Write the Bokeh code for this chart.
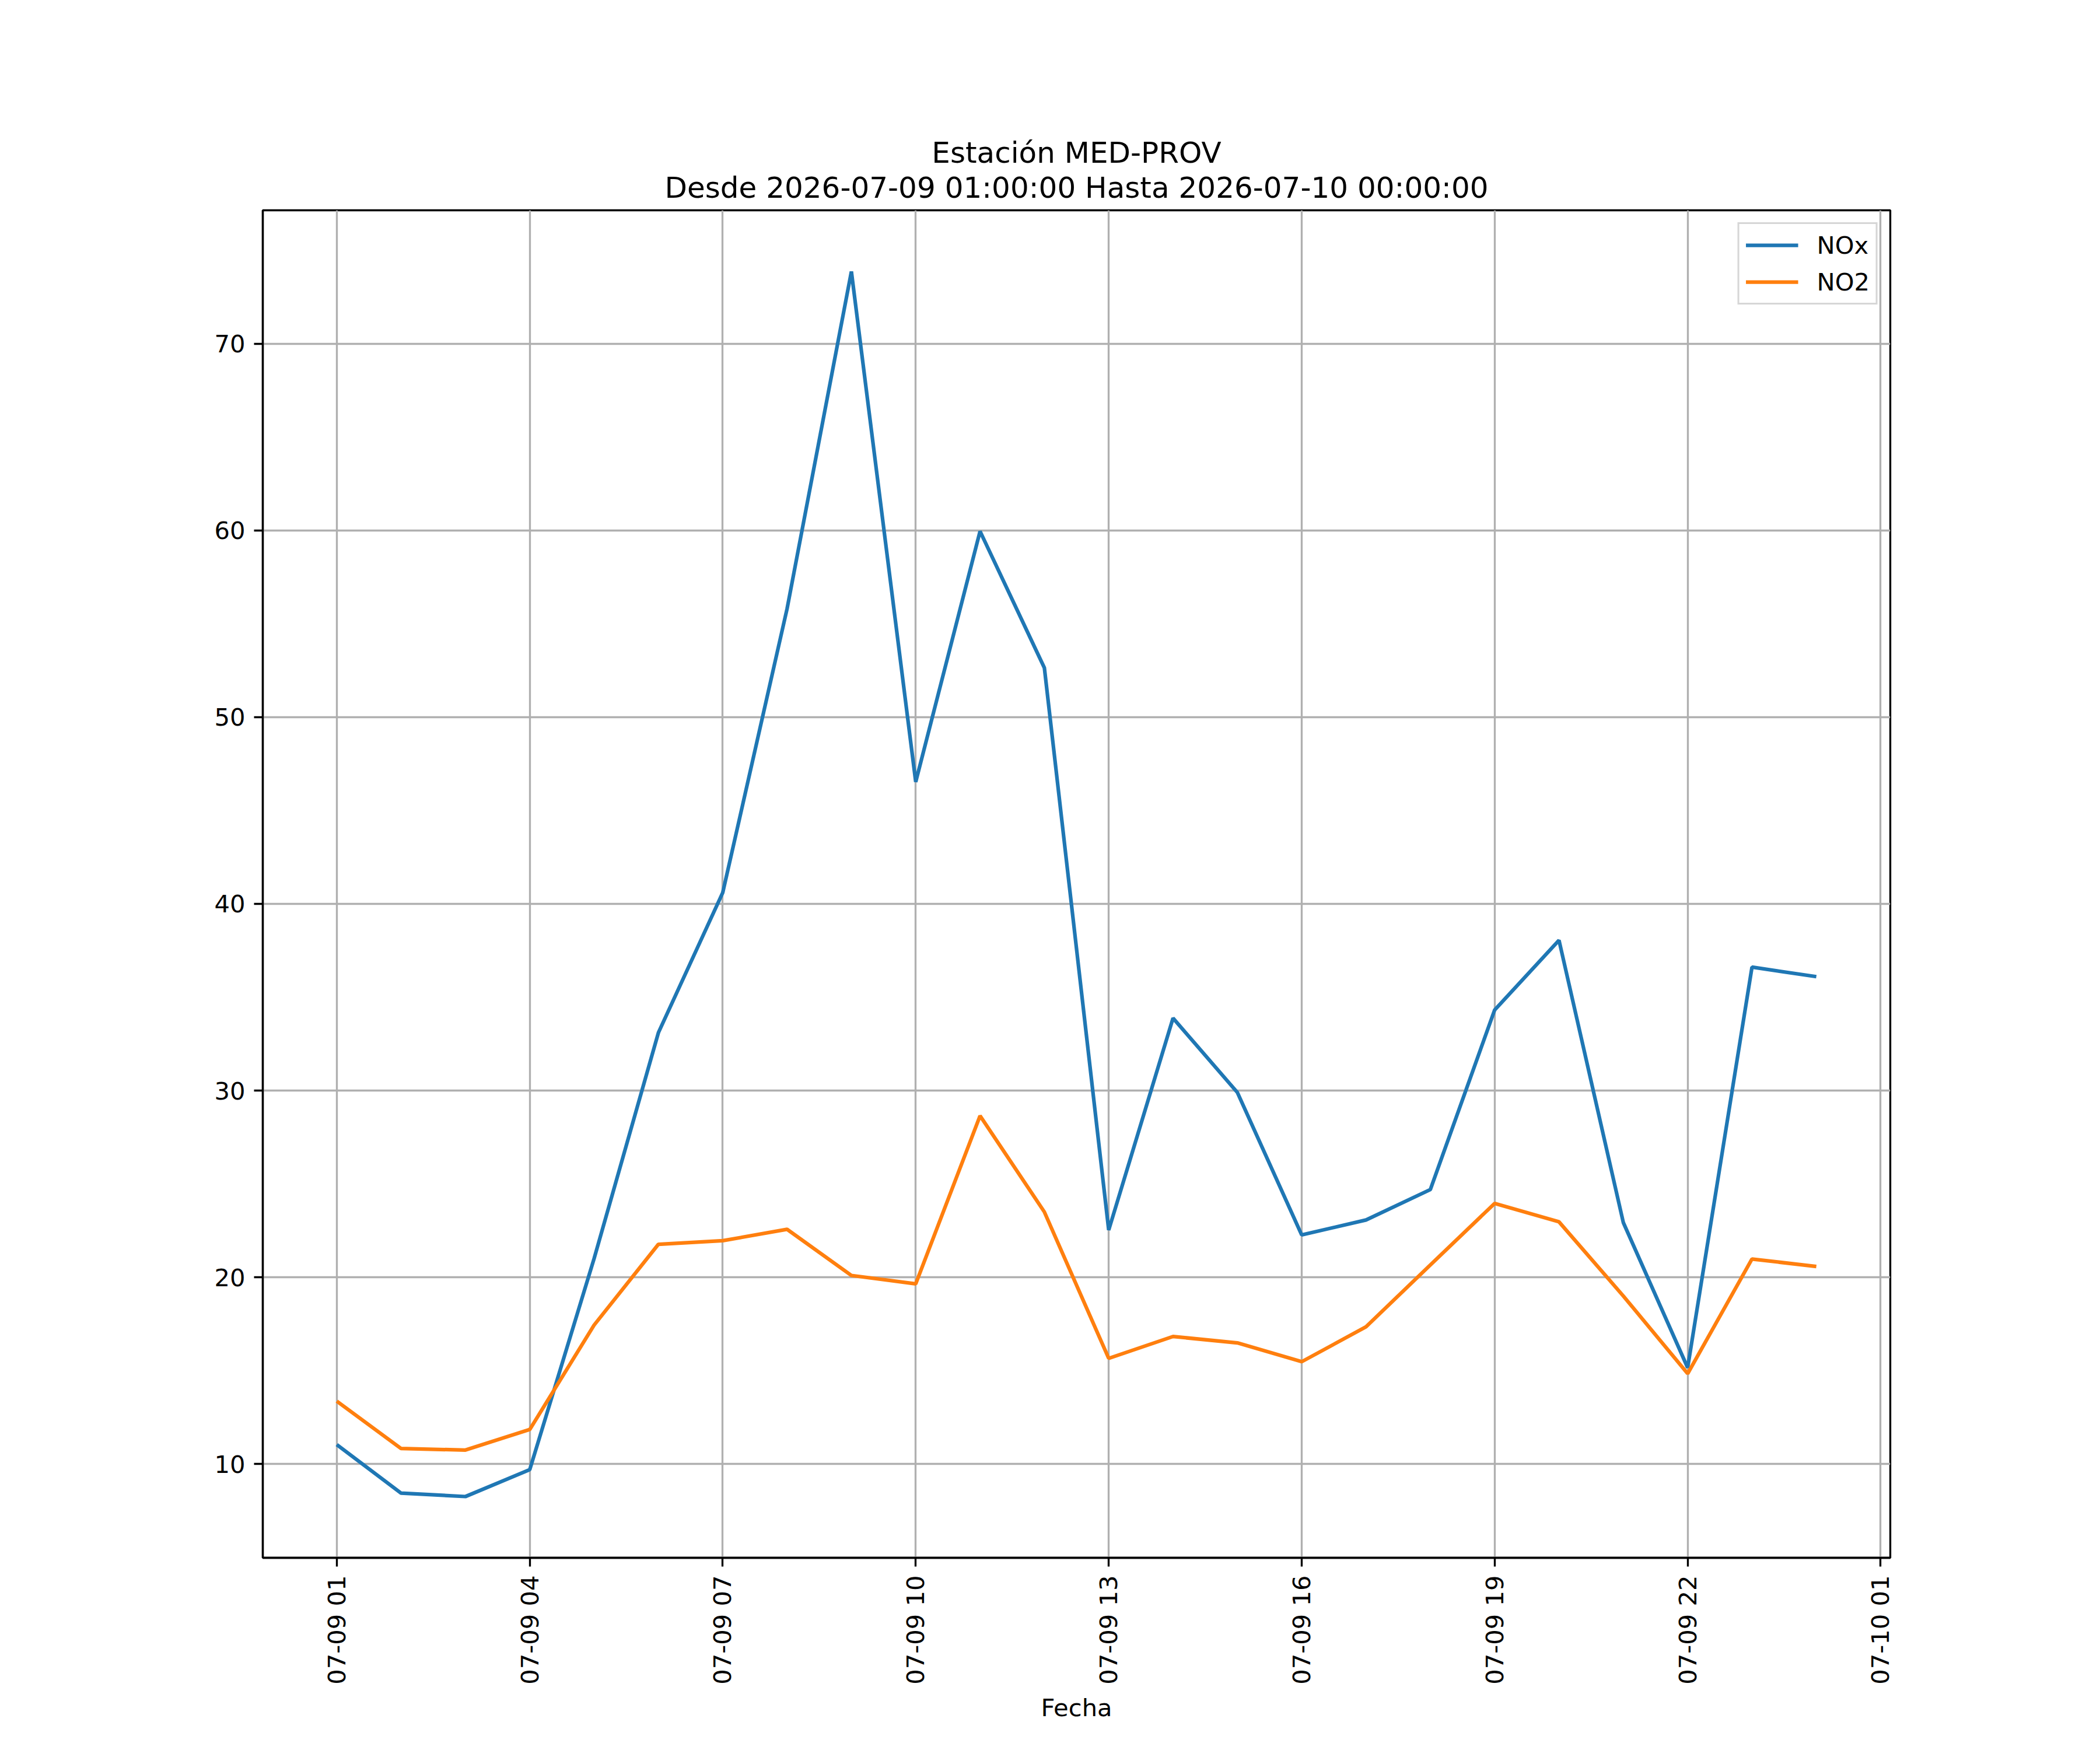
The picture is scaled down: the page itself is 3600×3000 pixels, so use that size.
import pandas as pd
from bokeh.plotting import figure
from bokeh.models import (Range1d, FixedTicker, SingleIntervalTicker, DatetimeTickFormatter,
                          Title, Legend, LegendItem)
from bokeh.embed import file_html
from bokeh.resources import INLINE

# ---- data ----
fecha = [f"2026-07-09 {h:02d}:00" for h in range(1, 24)] + ["2026-07-10 00:00"]
nox = [11.04, 8.44, 8.26, 9.70, 21.0, 33.1, 40.6, 55.8, 73.86, 46.53, 59.95, 52.64,
       22.53, 33.88, 29.9, 22.27, 23.07, 24.7, 34.32, 38.05, 22.93, 15.16, 36.61, 36.1]
no2 = [13.37, 10.83, 10.75, 11.85, 17.44, 21.77, 21.96, 22.57, 20.1, 19.65, 28.65, 23.5,
       15.66, 16.83, 16.49, 15.48, 17.35, 20.66, 23.96, 22.97, 19.0, 14.84, 20.98, 20.58]
x_tick_labels = ["2026-07-09 01:00", "2026-07-09 04:00", "2026-07-09 07:00", "2026-07-09 10:00",
                 "2026-07-09 13:00", "2026-07-09 16:00", "2026-07-09 19:00", "2026-07-09 22:00",
                 "2026-07-10 01:00"]
titulo1 = "Estación MED-PROV"
titulo2 = "Desde 2026-07-09 01:00:00 Hasta 2026-07-10 00:00:00"

t = pd.to_datetime(fecha)
FONT = "DejaVu Sans"
LW = 3.33

# matplotlib-like 5% margins computed from data
x0, x1 = t[0].value / 1e6, t[-1].value / 1e6
dx = (x1 - x0) * 0.05
ymin = min(min(nox), min(no2)); ymax = max(max(nox), max(no2))
dy = (ymax - ymin) * 0.05

p = figure(width=3600, height=3000, output_backend="svg", toolbar_location=None,
           x_axis_type="datetime",
           x_range=Range1d(x0 - dx, x1 + dx), y_range=Range1d(ymin - dy, ymax + dy),
           min_border_left=450, min_border_right=360, min_border_top=360, min_border_bottom=330)
p.background_fill_color = "white"
p.border_fill_color = "white"
p.outline_line_color = "black"
p.outline_line_width = LW

r1 = p.line(t, nox, line_color="#1f77b4", line_width=6.25)
r2 = p.line(t, no2, line_color="#ff7f0e", line_width=6.25)

# axes
xa = p.xaxis[0]
xa.ticker = FixedTicker(ticks=[pd.Timestamp(s).value / 1e6 for s in x_tick_labels])
fmt = "%m-%d %H"
xa.formatter = DatetimeTickFormatter(microseconds=fmt, milliseconds=fmt, seconds=fmt,
                                     minsec=fmt, minutes=fmt, hourmin=fmt, hours=fmt,
                                     days=fmt, months=fmt, years=fmt)
xa.major_label_orientation = 3.14159265 / 2
xa.axis_label = "Fecha"
ya = p.yaxis[0]
ya.ticker = SingleIntervalTicker(interval=10, num_minor_ticks=0)

for ax in (xa, ya):
    ax.axis_line_width = LW
    ax.axis_line_color = "black"
    ax.major_tick_line_width = LW
    ax.major_tick_line_color = "black"
    ax.major_tick_out = 15
    ax.major_tick_in = 0
    ax.minor_tick_line_color = None
    ax.major_label_standoff = 15
    ax.major_label_text_font = FONT
    ax.major_label_text_font_size = "41.67px"
    ax.major_label_text_color = "black"
    ax.axis_label_text_font = FONT
    ax.axis_label_text_font_size = "41.67px"
    ax.axis_label_text_font_style = "normal"
    ax.axis_label_text_color = "black"
xa.axis_label_standoff = 12

for g in (p.xgrid[0], p.ygrid[0]):
    g.grid_line_color = "#b0b0b0"
    g.grid_line_width = LW

# titles (first added is closest to frame)
p.add_layout(Title(text=titulo2, align="center", text_font=FONT, text_font_size="50px",
                   text_font_style="normal", text_color="black", standoff=19), "above")
p.add_layout(Title(text=titulo1, align="center", text_font=FONT, text_font_size="50px",
                   text_font_style="normal", text_color="black", standoff=-18), "above")

legend = Legend(items=[LegendItem(label="NOx", renderers=[r1]),
                       LegendItem(label="NO2", renderers=[r2])],
                location="top_right", margin=21, padding=11, spacing=13,
                glyph_width=90, glyph_height=50, label_height=50, label_standoff=32,
                label_text_font=FONT, label_text_font_size="41.67px", label_text_color="black",
                border_line_color="#cccccc", border_line_width=LW, border_line_alpha=0.8,
                background_fill_alpha=0.8)
p.add_layout(legend)

open("out.html", "w").write(file_html(p, INLINE))
